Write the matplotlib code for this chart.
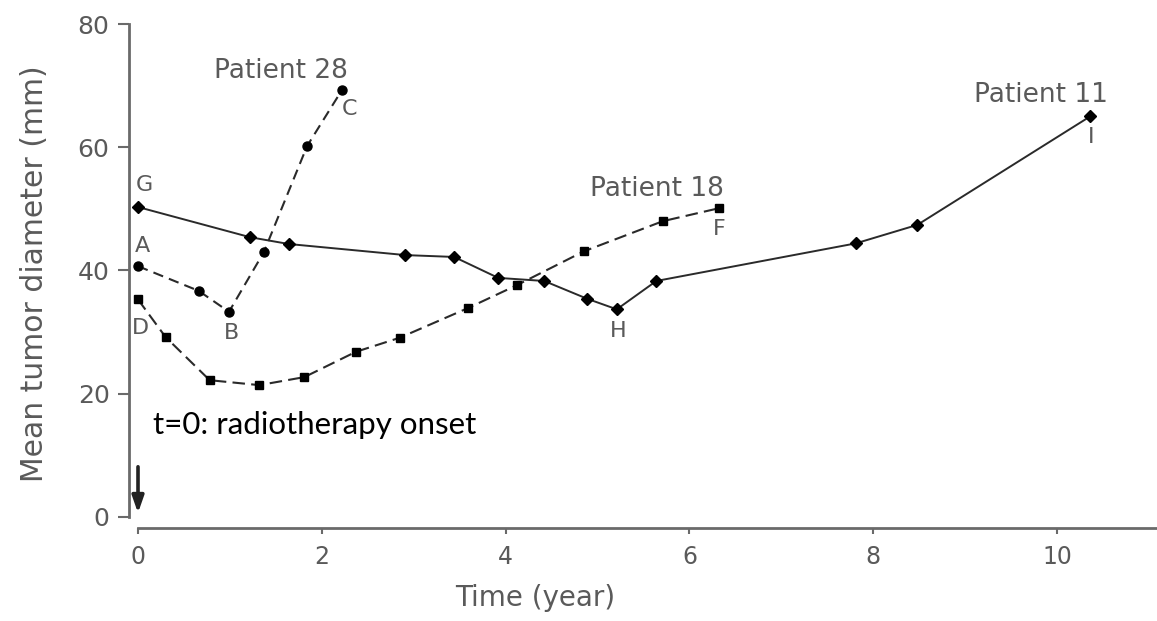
import numpy as np
import matplotlib.pyplot as plt

# --- Tumour diameter series (time in years, diameter in mm) ---
p11_t = [0.0, 1.22, 1.64, 2.91, 3.44, 3.92, 4.42, 4.89, 5.21, 5.64, 7.81, 8.48, 10.36]
p11_d = [50.3, 45.4, 44.3, 42.5, 42.2, 38.8, 38.3, 35.4, 33.7, 38.3, 44.4, 47.4, 65.0]

p28_t = [0.0, 0.66, 0.99, 1.37, 1.84, 2.22]
p28_d = [40.7, 36.7, 33.3, 43.0, 60.2, 69.3]

p18_t = [0.0, 0.30, 0.78, 1.32, 1.81, 2.37, 2.85, 3.59, 4.12, 4.85, 5.71, 6.32]
p18_d = [35.3, 29.2, 22.2, 21.4, 22.7, 26.8, 29.1, 33.9, 37.6, 43.1, 48.0, 50.1]

x_ticks = [0, 2, 4, 6, 8, 10]
y_ticks = [0, 20, 40, 60, 80]

W, H = 1157, 621
fig = plt.figure(figsize=(W / 100, H / 100), dpi=100)
# axes box in pixels: left spine at x=129, x axis at y=528, top at y=24
ax = fig.add_axes([129 / W, (H - 528) / H, (W - 129) / W, (528 - 24) / H])

grey = "#5a5a5a"
line_c = "#2a2a2a"

ax.plot(p11_t, p11_d, color=line_c, lw=1.4, marker="D", ms=6,
        mfc="black", mec="black", zorder=3)
ax.plot(p28_t, p28_d, color=line_c, lw=1.5, ls=(0, (5, 3)), marker="o", ms=6.5,
        mfc="black", mec="black", zorder=3)
ax.plot(p18_t, p18_d, color=line_c, lw=1.5, ls=(0, (6, 3)), marker="s", ms=6,
        mfc="black", mec="black", zorder=3)

ax.set_xlim(-0.098, 11.088)
ax.set_ylim(-1.785, 80)

for s in ["top", "right"]:
    ax.spines[s].set_visible(False)
ax.spines["left"].set_bounds(0, 80)
ax.spines["bottom"].set_bounds(0, 11.088)
for s in ["left", "bottom"]:
    ax.spines[s].set_color("#6a6a6a")
    ax.spines[s].set_linewidth(2.0)

ax.set_xticks(x_ticks)
ax.set_yticks(y_ticks)
ax.tick_params(axis="y", direction="out", length=8, width=1.5, color="#6a6a6a",
               labelsize=18, labelcolor=grey, pad=6)
ax.tick_params(axis="x", direction="out", length=4, width=1.5, color="#6a6a6a",
               labelsize=17, labelcolor=grey, pad=8)

ax.set_ylabel("Mean tumor diameter (mm)", fontsize=21.5, color=grey)
ax.yaxis.set_label_coords(-0.078, 0.505)
ax.set_xlabel("Time (year)", fontsize=20, color=grey)
ax.xaxis.set_label_coords(0.395, -0.112)

# patient names
ax.text(1.55, 72.4, "Patient 28", fontsize=19, color=grey, ha="center", va="center")
ax.text(5.65, 53.3, "Patient 18", fontsize=19, color=grey, ha="center", va="center")
ax.text(9.82, 68.5, "Patient 11", fontsize=19, color=grey, ha="center", va="center")

# point letters
letters = [("G", 0.07, 53.9), ("A", 0.05, 43.9), ("D", 0.03, 30.6),
           ("B", 1.02, 29.9), ("C", 2.30, 66.2), ("H", 5.23, 30.2),
           ("F", 6.33, 46.8), ("I", 10.37, 61.6)]
for lab, lx, ly in letters:
    ax.text(lx, ly, lab, fontsize=16, color=grey, ha="center", va="center")

ax.text(0.16, 14.9, "t=0: radiotherapy onset", fontsize=22.5, color="black",
        family=["Lato", "DejaVu Sans"], ha="left", va="center")

# arrow marking radiotherapy start
ax.annotate("", xy=(0.0, 0.2), xytext=(0.0, 8.6),
            arrowprops=dict(arrowstyle="-|>,head_length=1.0,head_width=0.35",
                            color="#222222", lw=2.6))

fig.savefig("out.png", dpi=100, facecolor="white")
